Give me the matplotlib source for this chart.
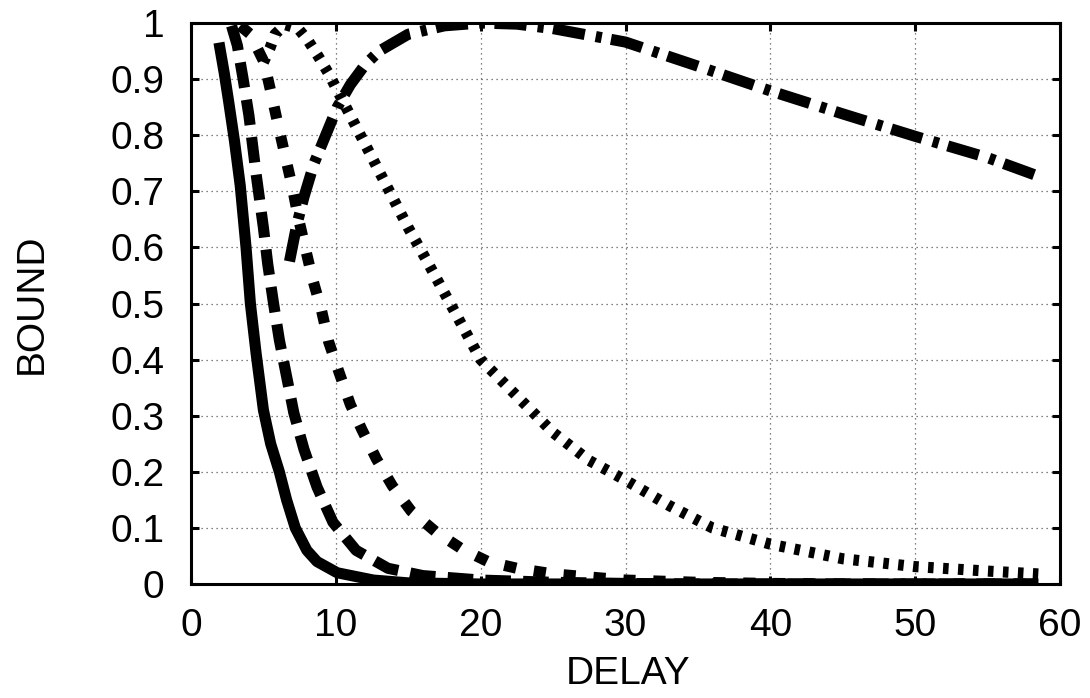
"""
Bound vs delay curves, gnuplot-style monochrome line plot.
"""

import matplotlib
matplotlib.use("Agg")
import matplotlib.pyplot as plt

# ── data ─────────────────────────────────────────────────────────────────────

solid_x = [1.93, 2.3, 2.6, 3.0, 3.4, 3.8, 4.1, 4.5, 5.0, 5.5, 6.1, 6.6, 7.2,
           8.0, 8.7, 10.1, 12.6, 15, 20, 58.5]
solid_y = [0.965, 0.91, 0.86, 0.79, 0.71, 0.60, 0.50, 0.41, 0.31, 0.25, 0.20,
           0.15, 0.10, 0.06, 0.04, 0.02, 0.007, 0.002, 0.0, 0.0]

dashed_x = [2.8, 3.2, 3.6, 4.0, 4.5, 5.0, 5.3, 5.7, 6.1, 6.6, 7.1, 7.8, 8.7,
            9.8, 11.4, 13.6, 16, 20, 25, 30, 35, 58.5]
dashed_y = [0.995, 0.96, 0.90, 0.835, 0.73, 0.635, 0.57, 0.50, 0.435, 0.37,
            0.305, 0.24, 0.173, 0.11, 0.06, 0.028, 0.015, 0.007, 0.003,
            0.001, 0.0, 0.0]

square_x = [3.4, 4.1, 5.05, 5.55, 6.0, 6.5, 7.0, 7.4, 7.9, 8.4, 9.0, 9.5,
            10.2, 11.0, 11.8, 12.8, 13.9, 15.2, 16.9, 18.7, 20.5, 22.5, 25,
            30, 35, 40, 45, 58.5]
square_y = [0.995, 0.98, 0.93, 0.873, 0.82, 0.763, 0.707, 0.654, 0.598,
            0.543, 0.489, 0.432, 0.379, 0.32, 0.275, 0.223, 0.175, 0.13,
            0.093, 0.0625, 0.04, 0.028, 0.018, 0.007, 0.003, 0.001, 0.0, 0.0]

dotted_x = [5.0, 5.45, 5.8, 6.5, 7.4, 8.1, 8.8, 9.5, 10.2, 11.0, 12, 13, 14,
            15, 16.2, 18, 20, 22.5, 25, 27.5, 30, 33, 36, 40, 45, 50, 55,
            58.5]
dotted_y = [0.93, 0.955, 0.98, 0.997, 0.99, 0.968, 0.94, 0.91, 0.875, 0.835,
            0.785, 0.735, 0.685, 0.635, 0.58, 0.495, 0.40, 0.335, 0.27, 0.22,
            0.185, 0.14, 0.10, 0.071, 0.045, 0.031, 0.023, 0.018]

dashdot_x = [6.8, 7.3, 7.8, 8.5, 9.3, 10.1, 11, 12, 13, 15, 17.5, 20, 22.5,
             25, 30, 35, 40, 45, 50, 55, 58.5]
dashdot_y = [0.575, 0.64, 0.69, 0.75, 0.80, 0.85, 0.89, 0.925, 0.95, 0.98,
             0.995, 1.0, 0.998, 0.99, 0.966, 0.923, 0.879, 0.838, 0.798,
             0.76, 0.727]

x_ticks = [0, 10, 20, 30, 40, 50, 60]
y_ticks = [0, 0.1, 0.2, 0.3, 0.4, 0.5, 0.6, 0.7, 0.8, 0.9, 1]
y_tick_labels = ["0", "0.1", "0.2", "0.3", "0.4", "0.5", "0.6", "0.7", "0.8",
                 "0.9", "1"]

# ── figure ───────────────────────────────────────────────────────────────────

plt.rcParams["font.family"] = ["Liberation Sans", "DejaVu Sans"]
FS = 28

fig = plt.figure(figsize=(10.9, 6.98), dpi=100)
ax = fig.add_axes([191 / 1090, 1 - 584 / 698, 869 / 1090, 561 / 698])

LW = 8
common = dict(color="black", lw=LW, solid_capstyle="butt",
              dash_capstyle="butt", solid_joinstyle="round")

ax.plot(solid_x, solid_y, linestyle="-", **common)
ax.plot(dashed_x, dashed_y, linestyle=(0, (2.3, 1.1)), **common)
ax.plot(square_x, square_y, linestyle=(0, (1.1, 1.6)), **common)
ax.plot(dotted_x, dotted_y, linestyle=(0, (0.5, 0.85)), **common)
ax.plot(dashdot_x, dashdot_y, linestyle=(0, (2.9, 1.0, 0.55, 0.85)), **common)

ax.set_xlim(0, 60)
ax.set_ylim(0, 1)
ax.set_xticks(x_ticks)
ax.set_yticks(y_ticks)
ax.set_yticklabels(y_tick_labels)

ax.grid(True, color="0.35", linestyle=(0, (1, 3)), linewidth=0.9)
ax.set_axisbelow(True)

for s in ax.spines.values():
    s.set_linewidth(2.2)
    s.set_zorder(5)

ax.tick_params(axis="both", direction="in", length=6, width=2.2,
               top=True, right=True, labelsize=FS)
ax.tick_params(axis="y", pad=19)
ax.tick_params(axis="x", pad=17)

ax.set_xlabel("DELAY", fontsize=FS)
ax.set_ylabel("BOUND", fontsize=FS)
ax.xaxis.set_label_coords(0.503, -0.128)
ax.yaxis.set_label_coords(-0.162, 0.5)

plt.savefig("out.png", dpi=100)
plt.close()
